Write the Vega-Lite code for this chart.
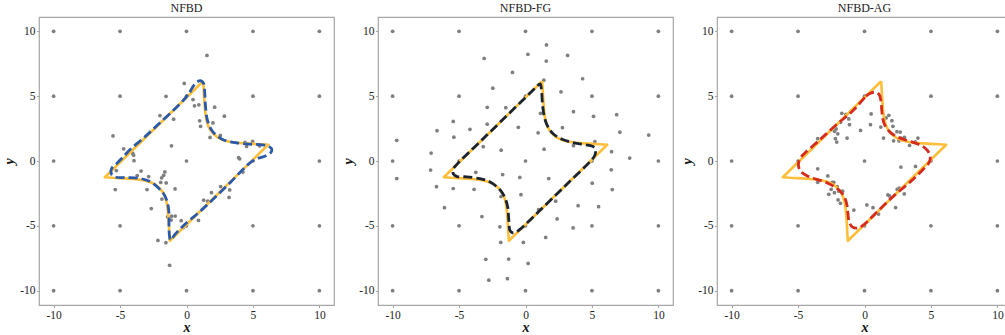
{
  "$schema": "https://vega.github.io/schema/vega-lite/v6.json",
  "padding": {"left": 2, "top": 1, "right": 0, "bottom": 0},
  "spacing": 6,
  "config": {
    "font": "Liberation Serif",
    "view": {"stroke": "#a6a6a6", "strokeWidth": 1.2},
    "title": {"font": "Liberation Serif", "fontSize": 12, "fontWeight": "normal", "offset": 2, "color": "#1a1a1a"},
    "axis": {
      "domain": false, "grid": false, "tickSize": 2.5, "tickColor": "#a6a6a6", "tickWidth": 1,
      "labelFont": "Liberation Serif", "labelFontSize": 11.5, "labelColor": "#222222", "labelPadding": 1.5,
      "titleFont": "Liberation Serif", "titleFontSize": 14, "titleFontWeight": "bold", "titleFontStyle": "italic", "titleColor": "#111111"
    }
  },
  "datasets": {
    "grid": [
      {"x": -10, "y": -10}, {"x": -10, "y": -5}, {"x": -10, "y": 0}, {"x": -10, "y": 5}, {"x": -10, "y": 10},
      {"x": -5, "y": -10}, {"x": -5, "y": -5}, {"x": -5, "y": 0}, {"x": -5, "y": 5}, {"x": -5, "y": 10},
      {"x": 0, "y": -10}, {"x": 0, "y": -5}, {"x": 0, "y": 0}, {"x": 0, "y": 5}, {"x": 0, "y": 10},
      {"x": 5, "y": -10}, {"x": 5, "y": -5}, {"x": 5, "y": 0}, {"x": 5, "y": 5}, {"x": 5, "y": 10},
      {"x": 10, "y": -10}, {"x": 10, "y": -5}, {"x": 10, "y": 0}, {"x": 10, "y": 5}, {"x": 10, "y": 10}
    ],
    "pts1": [
      {"x": 1.54, "y": 8.14}, {"x": -0.17, "y": 5.98}, {"x": -1.54, "y": 4.99}, {"x": 0.49, "y": 4.74}, {"x": 0.6, "y": 4.25},
      {"x": 0.93, "y": 4.33}, {"x": 2.12, "y": 4.15}, {"x": -2.0, "y": 3.5}, {"x": -0.97, "y": 3.22}, {"x": 2.85, "y": 3.45},
      {"x": 0.99, "y": 3.1}, {"x": 1.06, "y": 2.67}, {"x": 1.99, "y": 2.93}, {"x": -5.53, "y": 1.93}, {"x": 1.77, "y": 1.82},
      {"x": 2.55, "y": 1.97}, {"x": -1.13, "y": 1.17}, {"x": -4.73, "y": 0.94}, {"x": -4.04, "y": 0.58}, {"x": -3.98, "y": 0.45},
      {"x": -3.95, "y": 0.02}, {"x": -5.28, "y": -0.74}, {"x": 4.4, "y": 1.43}, {"x": 4.52, "y": 1.12}, {"x": 4.98, "y": 1.52},
      {"x": 5.5, "y": 1.17}, {"x": 3.92, "y": 0.26}, {"x": 4.0, "y": 0.17}, {"x": 4.25, "y": -0.85}, {"x": -3.42, "y": -0.78},
      {"x": -3.71, "y": -1.12}, {"x": -2.85, "y": -1.2}, {"x": -1.63, "y": -0.84}, {"x": -1.72, "y": -1.1}, {"x": -1.87, "y": -1.3},
      {"x": -1.94, "y": -1.65}, {"x": -1.53, "y": -1.69}, {"x": -5.36, "y": -2.2}, {"x": -2.97, "y": -2.2}, {"x": -0.86, "y": -2.15},
      {"x": -1.85, "y": -2.93}, {"x": 1.88, "y": -2.44}, {"x": 2.57, "y": -1.97}, {"x": 3.25, "y": -2.23}, {"x": 3.2, "y": -2.81},
      {"x": 1.29, "y": -3.02}, {"x": 1.6, "y": -3.1}, {"x": -2.65, "y": -3.67}, {"x": -1.42, "y": -4.3}, {"x": -1.15, "y": -4.55},
      {"x": -0.85, "y": -4.24}, {"x": -1.12, "y": -4.25}, {"x": -0.4, "y": -4.6}, {"x": 0.9, "y": -4.58}, {"x": -0.25, "y": -5.14},
      {"x": -0.09, "y": -4.99}, {"x": -2.15, "y": -6.12}, {"x": -1.55, "y": -6.3}, {"x": -1.27, "y": -8.04}
    ],
    "pts2": [
      {"x": 1.58, "y": 8.95}, {"x": 0.18, "y": 8.22}, {"x": 3.17, "y": 8.14}, {"x": -3.11, "y": 7.91}, {"x": 1.56, "y": 7.7},
      {"x": -0.98, "y": 6.83}, {"x": 1.38, "y": 6.23}, {"x": 4.3, "y": 6.34}, {"x": -2.46, "y": 5.61}, {"x": 2.67, "y": 5.33},
      {"x": -2.88, "y": 4.14}, {"x": -1.48, "y": 4.11}, {"x": 3.61, "y": 3.8}, {"x": 1.13, "y": 3.68}, {"x": -5.44, "y": 3.05},
      {"x": 5.12, "y": 3.44}, {"x": 6.86, "y": 3.57}, {"x": -2.88, "y": 2.84}, {"x": -6.66, "y": 2.34}, {"x": -4.18, "y": 2.44},
      {"x": -0.54, "y": 2.6}, {"x": 2.78, "y": 2.57}, {"x": 0.95, "y": 2.17}, {"x": 7.1, "y": 2.22}, {"x": 9.27, "y": 2.0},
      {"x": -9.69, "y": 1.59}, {"x": -5.39, "y": 1.84}, {"x": -3.18, "y": 1.1}, {"x": -1.83, "y": 0.83}, {"x": 1.4, "y": 0.91},
      {"x": 3.61, "y": 1.18}, {"x": 5.22, "y": 1.5}, {"x": 6.48, "y": 0.72}, {"x": 7.84, "y": 0.23}, {"x": -7.1, "y": 0.61},
      {"x": -7.14, "y": -0.7}, {"x": -3.74, "y": -0.87}, {"x": -9.69, "y": -1.35}, {"x": -6.7, "y": -1.98}, {"x": -6.1, "y": -3.6},
      {"x": -5.44, "y": -2.12}, {"x": -3.87, "y": -2.18}, {"x": -3.28, "y": -4.28}, {"x": -2.99, "y": -7.58}, {"x": -2.76, "y": -9.19},
      {"x": -1.72, "y": -1.05}, {"x": -1.84, "y": -2.74}, {"x": -0.43, "y": -1.27}, {"x": -0.34, "y": -2.6}, {"x": -1.93, "y": -5.07},
      {"x": -1.86, "y": -6.28}, {"x": -0.16, "y": -6.28}, {"x": -1.27, "y": -7.56}, {"x": 0.2, "y": -7.9}, {"x": -1.36, "y": -9.07},
      {"x": 1.75, "y": -1.35}, {"x": 0.98, "y": -3.75}, {"x": 2.27, "y": -3.1}, {"x": 2.38, "y": -4.47}, {"x": 1.52, "y": -5.89},
      {"x": 3.96, "y": -3.44}, {"x": 5.5, "y": -3.52}, {"x": 3.58, "y": -5.16}, {"x": 5.02, "y": -1.71}, {"x": 6.45, "y": -0.68},
      {"x": 6.53, "y": -2.2}
    ],
    "pts3": [
      {"x": -1.71, "y": 3.68}, {"x": -1.4, "y": 3.6}, {"x": -1.18, "y": 3.24}, {"x": -1.81, "y": 2.98}, {"x": -0.73, "y": 4.09},
      {"x": -1.13, "y": 2.8}, {"x": -0.3, "y": 2.36}, {"x": -2.14, "y": 2.47}, {"x": -2.26, "y": 2.29}, {"x": -2.01, "y": 2.1},
      {"x": -3.52, "y": 1.72}, {"x": -2.19, "y": 1.72}, {"x": -2.09, "y": 1.46}, {"x": -1.31, "y": 1.77},
      {"x": 0.5, "y": 3.63}, {"x": 0.45, "y": 2.8}, {"x": 1.63, "y": 3.32}, {"x": 1.83, "y": 3.52}, {"x": 2.06, "y": 3.11},
      {"x": 1.23, "y": 2.62}, {"x": 2.14, "y": 2.67}, {"x": 2.44, "y": 2.26}, {"x": 2.69, "y": 2.23}, {"x": 1.43, "y": 1.77},
      {"x": 2.19, "y": 1.56}, {"x": 2.59, "y": 1.56}, {"x": 2.76, "y": 1.77}, {"x": 3.01, "y": 1.82}, {"x": 3.39, "y": 1.2},
      {"x": 3.82, "y": 1.48}, {"x": 4.02, "y": 1.77}, {"x": 2.74, "y": -0.47}, {"x": 3.84, "y": -0.42},
      {"x": -3.52, "y": -0.6}, {"x": -2.76, "y": -1.15}, {"x": -3.52, "y": -1.64}, {"x": -2.43, "y": -1.64}, {"x": -2.31, "y": -1.64},
      {"x": -2.06, "y": -1.97}, {"x": -2.51, "y": -2.18}, {"x": -2.26, "y": -2.44}, {"x": -1.93, "y": -2.33}, {"x": -1.65, "y": -2.33},
      {"x": -2.69, "y": -2.57}, {"x": -1.99, "y": -3.0}, {"x": -1.81, "y": -3.26}, {"x": -0.8, "y": -3.78}, {"x": 0.18, "y": -3.39},
      {"x": 0.64, "y": -3.6}, {"x": 1.06, "y": -4.09}, {"x": 1.76, "y": -2.62}, {"x": 1.88, "y": -2.69}, {"x": 2.34, "y": -3.59},
      {"x": 2.46, "y": -2.18}, {"x": 2.61, "y": -2.1}, {"x": 2.99, "y": -2.54}
    ],
    "truth": [
      {"i": 0, "x": 1.25, "y": 6.15}, {"i": 1, "x": 1.29, "y": 5.6}, {"i": 2, "x": 1.32, "y": 5.0}, {"i": 3, "x": 1.36, "y": 4.4},
      {"i": 4, "x": 1.41, "y": 3.8}, {"i": 5, "x": 1.48, "y": 3.25}, {"i": 6, "x": 1.6, "y": 2.8}, {"i": 7, "x": 1.78, "y": 2.4},
      {"i": 8, "x": 2.06, "y": 2.06}, {"i": 9, "x": 2.4, "y": 1.78}, {"i": 10, "x": 2.8, "y": 1.6}, {"i": 11, "x": 3.25, "y": 1.48},
      {"i": 12, "x": 3.8, "y": 1.41}, {"i": 13, "x": 4.4, "y": 1.36}, {"i": 14, "x": 5.0, "y": 1.32}, {"i": 15, "x": 5.6, "y": 1.29},
      {"i": 16, "x": 6.15, "y": 1.25}, {"i": 17, "x": -1.25, "y": -6.15}, {"i": 18, "x": -1.29, "y": -5.6}, {"i": 19, "x": -1.32, "y": -5.0},
      {"i": 20, "x": -1.36, "y": -4.4}, {"i": 21, "x": -1.41, "y": -3.8}, {"i": 22, "x": -1.48, "y": -3.25}, {"i": 23, "x": -1.6, "y": -2.8},
      {"i": 24, "x": -1.78, "y": -2.4}, {"i": 25, "x": -2.06, "y": -2.06}, {"i": 26, "x": -2.4, "y": -1.78}, {"i": 27, "x": -2.8, "y": -1.6},
      {"i": 28, "x": -3.25, "y": -1.48}, {"i": 29, "x": -3.8, "y": -1.41}, {"i": 30, "x": -4.4, "y": -1.36}, {"i": 31, "x": -5.0, "y": -1.32},
      {"i": 32, "x": -5.6, "y": -1.29}, {"i": 33, "x": -6.15, "y": -1.25}, {"i": 34, "x": 1.25, "y": 6.15}
    ],
    "est1": [
      {"i": 0, "x": 0.25, "y": 5.3}, {"i": 1, "x": 0.5, "y": 5.75}, {"i": 2, "x": 0.8, "y": 6.1}, {"i": 3, "x": 1.1, "y": 6.18},
      {"i": 4, "x": 1.3, "y": 5.95}, {"i": 5, "x": 1.37, "y": 5.3}, {"i": 6, "x": 1.4, "y": 4.7}, {"i": 7, "x": 1.45, "y": 4.0},
      {"i": 8, "x": 1.52, "y": 3.4}, {"i": 9, "x": 1.65, "y": 2.9}, {"i": 10, "x": 1.85, "y": 2.45}, {"i": 11, "x": 2.1, "y": 2.12},
      {"i": 12, "x": 2.45, "y": 1.82}, {"i": 13, "x": 2.85, "y": 1.6}, {"i": 14, "x": 3.3, "y": 1.47}, {"i": 15, "x": 3.9, "y": 1.38},
      {"i": 16, "x": 4.5, "y": 1.32}, {"i": 17, "x": 5.1, "y": 1.28}, {"i": 18, "x": 5.7, "y": 1.25}, {"i": 19, "x": 6.15, "y": 1.15},
      {"i": 20, "x": 6.4, "y": 0.95}, {"i": 21, "x": 6.38, "y": 0.7}, {"i": 22, "x": 6.15, "y": 0.5}, {"i": 23, "x": 5.7, "y": 0.3},
      {"i": 24, "x": 5.2, "y": 0.15}, {"i": 25, "x": 4.6, "y": -0.3}, {"i": 26, "x": 3.3, "y": -1.65}, {"i": 27, "x": 2.0, "y": -2.95},
      {"i": 28, "x": 1.0, "y": -3.9}, {"i": 29, "x": -0.2, "y": -4.95}, {"i": 30, "x": -0.9, "y": -5.7}, {"i": 31, "x": -1.2, "y": -6.1},
      {"i": 32, "x": -1.29, "y": -5.7}, {"i": 33, "x": -1.32, "y": -4.8}, {"i": 34, "x": -1.32, "y": -4.0}, {"i": 35, "x": -1.42, "y": -3.26},
      {"i": 36, "x": -1.67, "y": -2.61}, {"i": 37, "x": -2.09, "y": -2.1}, {"i": 38, "x": -2.72, "y": -1.6}, {"i": 39, "x": -3.47, "y": -1.35},
      {"i": 40, "x": -4.48, "y": -1.27}, {"i": 41, "x": -5.3, "y": -1.25}, {"i": 42, "x": -5.65, "y": -1.0}, {"i": 43, "x": -5.62, "y": -0.55},
      {"i": 44, "x": -5.23, "y": -0.17}, {"i": 45, "x": -4.73, "y": 0.35}, {"i": 46, "x": -4.23, "y": 0.9}, {"i": 47, "x": -3.2, "y": 1.8},
      {"i": 48, "x": -2.2, "y": 2.75}, {"i": 49, "x": -1.0, "y": 3.9}, {"i": 50, "x": -0.2, "y": 4.72}, {"i": 51, "x": 0.25, "y": 5.3}
    ],
    "est2": [
      {"i": 0, "x": -0.5, "y": 4.4}, {"i": 1, "x": 0.4, "y": 5.3}, {"i": 2, "x": 0.8, "y": 5.7}, {"i": 3, "x": 1.1, "y": 5.95},
      {"i": 4, "x": 1.2, "y": 5.5}, {"i": 5, "x": 1.26, "y": 4.6}, {"i": 6, "x": 1.32, "y": 4.0}, {"i": 7, "x": 1.42, "y": 3.4},
      {"i": 8, "x": 1.58, "y": 2.87}, {"i": 9, "x": 1.8, "y": 2.44}, {"i": 10, "x": 2.08, "y": 2.1}, {"i": 11, "x": 2.45, "y": 1.83},
      {"i": 12, "x": 2.9, "y": 1.62}, {"i": 13, "x": 3.5, "y": 1.44}, {"i": 14, "x": 4.1, "y": 1.32}, {"i": 15, "x": 4.7, "y": 1.22},
      {"i": 16, "x": 5.1, "y": 1.1}, {"i": 17, "x": 5.27, "y": 0.85}, {"i": 18, "x": 5.2, "y": 0.4}, {"i": 19, "x": 4.9, "y": 0.0},
      {"i": 20, "x": 3.0, "y": -1.9}, {"i": 21, "x": 1.0, "y": -3.9}, {"i": 22, "x": -0.4, "y": -5.25}, {"i": 23, "x": -0.7, "y": -5.47},
      {"i": 24, "x": -1.0, "y": -5.52}, {"i": 25, "x": -1.18, "y": -5.33}, {"i": 26, "x": -1.24, "y": -4.8}, {"i": 27, "x": -1.28, "y": -4.2},
      {"i": 28, "x": -1.33, "y": -3.6}, {"i": 29, "x": -1.48, "y": -3.0}, {"i": 30, "x": -1.8, "y": -2.38}, {"i": 31, "x": -2.2, "y": -1.95},
      {"i": 32, "x": -2.8, "y": -1.55}, {"i": 33, "x": -3.44, "y": -1.36}, {"i": 34, "x": -4.45, "y": -1.22}, {"i": 35, "x": -5.15, "y": -1.2},
      {"i": 36, "x": -5.43, "y": -1.0}, {"i": 37, "x": -5.43, "y": -0.62}, {"i": 38, "x": -5.2, "y": -0.3}, {"i": 39, "x": -3.0, "y": 1.9},
      {"i": 40, "x": -0.5, "y": 4.4}
    ],
    "est3": [
      {"i": 0, "x": 0.1, "y": 5.0}, {"i": 1, "x": 0.45, "y": 5.22}, {"i": 2, "x": 0.8, "y": 5.3}, {"i": 3, "x": 1.1, "y": 5.13},
      {"i": 4, "x": 1.24, "y": 4.6}, {"i": 5, "x": 1.3, "y": 3.9}, {"i": 6, "x": 1.36, "y": 3.35}, {"i": 7, "x": 1.51, "y": 2.8},
      {"i": 8, "x": 1.85, "y": 2.3}, {"i": 9, "x": 2.3, "y": 1.95}, {"i": 10, "x": 2.9, "y": 1.68}, {"i": 11, "x": 3.64, "y": 1.44},
      {"i": 12, "x": 4.3, "y": 1.18}, {"i": 13, "x": 4.75, "y": 0.8}, {"i": 14, "x": 4.95, "y": 0.3}, {"i": 15, "x": 4.85, "y": -0.15},
      {"i": 16, "x": 4.55, "y": -0.5}, {"i": 17, "x": 3.64, "y": -1.43}, {"i": 18, "x": 2.14, "y": -2.75}, {"i": 19, "x": 0.63, "y": -4.25},
      {"i": 20, "x": -0.1, "y": -4.95}, {"i": 21, "x": -0.5, "y": -5.17}, {"i": 22, "x": -0.9, "y": -5.1}, {"i": 23, "x": -1.15, "y": -4.7},
      {"i": 24, "x": -1.25, "y": -4.0}, {"i": 25, "x": -1.32, "y": -3.4}, {"i": 26, "x": -1.51, "y": -2.78}, {"i": 27, "x": -1.9, "y": -2.25},
      {"i": 28, "x": -2.4, "y": -1.9}, {"i": 29, "x": -2.95, "y": -1.62}, {"i": 30, "x": -3.64, "y": -1.4}, {"i": 31, "x": -4.3, "y": -1.15},
      {"i": 32, "x": -4.8, "y": -0.8}, {"i": 33, "x": -4.97, "y": -0.35}, {"i": 34, "x": -4.88, "y": 0.15}, {"i": 35, "x": -4.5, "y": 0.6},
      {"i": 36, "x": -3.4, "y": 1.6}, {"i": 37, "x": -2.14, "y": 2.78}, {"i": 38, "x": -0.9, "y": 3.85}, {"i": 39, "x": 0.1, "y": 5.0}
    ]
  },
  "hconcat": [
    {
      "width": 295, "height": 288, "title": "NFBD",
      "encoding": {
        "x": {"field": "x", "type": "quantitative", "scale": {"domain": [-11.1, 11.1], "nice": false, "zero": false},
              "axis": {"title": "x", "values": [-10, -5, 0, 5, 10], "labelExpr": "'' + datum.value", "labelFont": "Liberation Serif", "titlePadding": 0}},
        "y": {"field": "y", "type": "quantitative", "scale": {"domain": [-11.1, 11.1], "nice": false, "zero": false},
              "axis": {"title": "y", "values": [-10, -5, 0, 5, 10], "labelExpr": "'' + datum.value", "labelFont": "Liberation Serif", "titlePadding": 3}}
      },
      "layer": [
        {"data": {"name": "grid"}, "mark": {"type": "circle", "size": 14, "color": "#7f7f7f", "opacity": 1}},
        {"data": {"name": "pts1"}, "mark": {"type": "circle", "size": 14, "color": "#7f7f7f", "opacity": 1}},
        {"data": {"name": "truth"}, "mark": {"type": "line", "color": "#FDBE3A", "strokeWidth": 2.6, "strokeJoin": "round"}, "encoding": {"order": {"field": "i", "type": "quantitative"}}},
        {"data": {"name": "est1"}, "mark": {"type": "line", "color": "#2C5AAA", "strokeWidth": 2.8, "strokeDash": [9, 4], "interpolate": "catmull-rom"}, "encoding": {"order": {"field": "i", "type": "quantitative"}}}
      ]
    },
    {
      "width": 295, "height": 288, "title": "NFBD-FG",
      "encoding": {
        "x": {"field": "x", "type": "quantitative", "scale": {"domain": [-11.1, 11.1], "nice": false, "zero": false},
              "axis": {"title": "x", "values": [-10, -5, 0, 5, 10], "labelExpr": "'' + datum.value", "labelFont": "Liberation Serif", "titlePadding": 0}},
        "y": {"field": "y", "type": "quantitative", "scale": {"domain": [-11.1, 11.1], "nice": false, "zero": false},
              "axis": {"title": "y", "values": [-10, -5, 0, 5, 10], "labelExpr": "'' + datum.value", "labelFont": "Liberation Serif", "titlePadding": 3}}
      },
      "layer": [
        {"data": {"name": "grid"}, "mark": {"type": "circle", "size": 14, "color": "#7f7f7f", "opacity": 1}},
        {"data": {"name": "pts2"}, "mark": {"type": "circle", "size": 14, "color": "#7f7f7f", "opacity": 1}},
        {"data": {"name": "truth"}, "mark": {"type": "line", "color": "#FDBE3A", "strokeWidth": 2.6, "strokeJoin": "round"}, "encoding": {"order": {"field": "i", "type": "quantitative"}}},
        {"data": {"name": "est2"}, "mark": {"type": "line", "color": "#1B2433", "strokeWidth": 2.8, "strokeDash": [9, 4], "interpolate": "catmull-rom"}, "encoding": {"order": {"field": "i", "type": "quantitative"}}}
      ]
    },
    {
      "width": 295, "height": 288, "title": "NFBD-AG",
      "encoding": {
        "x": {"field": "x", "type": "quantitative", "scale": {"domain": [-11.1, 11.1], "nice": false, "zero": false},
              "axis": {"title": "x", "values": [-10, -5, 0, 5, 10], "labelExpr": "'' + datum.value", "labelFont": "Liberation Serif", "titlePadding": 0}},
        "y": {"field": "y", "type": "quantitative", "scale": {"domain": [-11.1, 11.1], "nice": false, "zero": false},
              "axis": {"title": "y", "values": [-10, -5, 0, 5, 10], "labelExpr": "'' + datum.value", "labelFont": "Liberation Serif", "titlePadding": 3}}
      },
      "layer": [
        {"data": {"name": "grid"}, "mark": {"type": "circle", "size": 14, "color": "#7f7f7f", "opacity": 1}},
        {"data": {"name": "pts3"}, "mark": {"type": "circle", "size": 14, "color": "#7f7f7f", "opacity": 1}},
        {"data": {"name": "truth"}, "mark": {"type": "line", "color": "#FDBE3A", "strokeWidth": 2.6, "strokeJoin": "round"}, "encoding": {"order": {"field": "i", "type": "quantitative"}}},
        {"data": {"name": "est3"}, "mark": {"type": "line", "color": "#D52A1E", "strokeWidth": 2.8, "strokeDash": [9, 4], "interpolate": "catmull-rom"}, "encoding": {"order": {"field": "i", "type": "quantitative"}}}
      ]
    }
  ]
}
